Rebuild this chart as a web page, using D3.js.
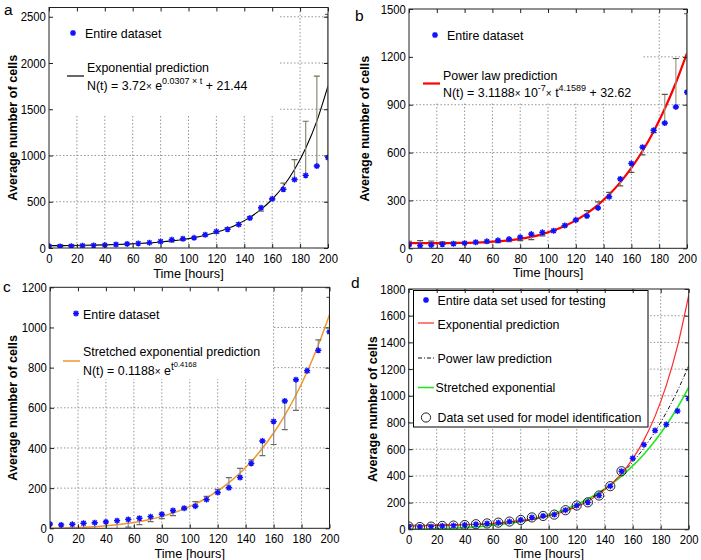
<!DOCTYPE html>
<html><head><meta charset="utf-8">
<script src="https://cdn.jsdelivr.net/npm/d3@7"></script>
<style>
body{margin:0;background:#fff}
svg text{font-family:"Liberation Sans",Arial,Helvetica,sans-serif;fill:#000}
</style>
</head><body>
<svg id="chart" width="701" height="560"></svg>
<script>
// ---------- data ----------
const hours = [0,8,16,24,32,40,48,56,64,72,80,88,96,104,112,120,128,136,144,152,160,168,176,184,192,200];
const cellCounts = [21,17,20,25,28,32,38,44,50,58,70,89,100,110,143,178,202,253,323,435,532,634,740,785,886,978];
const expPrediction = [25.2,26.2,27.5,29.2,31.4,34.1,37.7,42.2,48.0,55.4,64.8,76.9,92.3,112.1,137.3,169.5,210.8,263.4,330.8,416.9,527.0,667.8,847.7,1077.6,1371.7,1752.0];
const powerPrediction = [32.6,32.6,32.7,32.8,33.2,34.1,35.8,38.6,43.0,49.6,59.0,71.8,88.9,111.2,139.5,175.0,218.8,272.2,336.6,413.3,503.7,609.7,732.5,874.7,1037.8,1224.1];
const stretchedPrediction = [0.1,1.3,2.8,5.1,8.3,12.5,18.0,25.1,34.1,45.4,59.3,76.2,96.7,121.4,150.9,185.8,227.2,275.5,332.1,398.5,474.6,562.6,663.7,779.7,912.3,1063.9];
const identificationHours = [0,8,16,24,32,40,48,56,64,72,80,88,96,104,112,120,128,136,144,152];
const xTicks = [0,20,40,60,80,100,120,140,160,180,200];
const yTicksA = [0,500,1000,1500,2000,2500];
const yTicksB = [0,300,600,900,1200,1500];
const yTicksC = [0,200,400,600,800,1000,1200];
const yTicksD = [0,200,400,600,800,1000,1200,1400,1600,1800];
const panelLetters = ["a","b","c","d"];
const xTitle = "Time [hours]";
const yTitle = "Average number of cells";

// ---------- helpers ----------
const svg = d3.select("#chart");
const FONT_TICK = 12.6;
function starPath(r){
  const d = r*0.72;
  return `M${-r},0L${r},0M0,${-r}L0,${r}M${-d},${-d}L${d},${d}M${-d},${d}L${d},${-d}`;
}
const pts = hours.map((h,i)=>({h, v:cellCounts[i], e:expPrediction[i], p:powerPrediction[i], s:stretchedPrediction[i]}));

function drawPanel(cfg, idx){
  const g = svg.append("g");
  const x = d3.scaleLinear().domain([0,200]).range([cfg.left,cfg.right]);
  const y = d3.scaleLinear().domain([0,cfg.ymax]).range([cfg.bottom,cfg.top]);
  const clipId = "clip"+idx;
  svg.append("clipPath").attr("id",clipId).append("rect")
    .attr("x",cfg.left).attr("y",cfg.top).attr("width",cfg.right-cfg.left).attr("height",cfg.bottom-cfg.top);

  // grid
  const grid = g.append("g").attr("stroke","#8a8a8a").attr("stroke-width",0.9).attr("stroke-dasharray","1.5,2");
  grid.selectAll("line.v").data(xTicks.slice(1,-1)).join("line")
    .attr("x1",d=>x(d)).attr("x2",d=>x(d)).attr("y1",cfg.top).attr("y2",cfg.bottom);
  grid.selectAll("line.h").data(cfg.yTicks.filter(t=>t>0 && t<cfg.ymax)).join("line")
    .attr("x1",cfg.left).attr("x2",cfg.right).attr("y1",d=>y(d)).attr("y2",d=>y(d));

  // legend background
  const lb = cfg.legendBox;
  g.append("rect").attr("x",lb[0]).attr("y",lb[1]).attr("width",lb[2]-lb[0]).attr("height",lb[3]-lb[1])
    .attr("fill","#fff").attr("stroke",cfg.legendBorder?"#000":"none").attr("stroke-width",1);

  const plot = g.append("g").attr("clip-path",`url(#${clipId})`);

  // models
  cfg.models.forEach(m=>{
    const line = d3.line().x(d=>x(d.h)).y(d=>y(d[m.key])).curve(d3.curveMonotoneX);
    plot.append("path").datum(pts).attr("d",line).attr("fill","none")
      .attr("stroke",m.color).attr("stroke-width",m.width)
      .attr("stroke-dasharray",m.dash||null);
  });

  // error bars (prediction ± residual)
  if(cfg.barKey){
    const eb = plot.append("g").attr("stroke",cfg.barColor).attr("stroke-width",1.2);
    pts.forEach(d=>{
      const r = Math.abs(d.v-d[cfg.barKey]);
      const lo = d[cfg.barKey]-r, hi = d[cfg.barKey]+r;
      eb.append("line").attr("x1",x(d.h)).attr("x2",x(d.h)).attr("y1",y(lo)).attr("y2",y(hi));
      [lo,hi].forEach(v=>{
        eb.append("line").attr("x1",x(d.h)-3).attr("x2",x(d.h)+3).attr("y1",y(v)).attr("y2",y(v))
          .attr("stroke",cfg.capColor||cfg.barColor);
      });
    });
  }

  // identification circles
  if(cfg.circles){
    plot.append("g").selectAll("circle").data(identificationHours).join("circle")
      .attr("cx",h=>x(h)).attr("cy",h=>y(cellCounts[hours.indexOf(h)])).attr("r",4.6)
      .attr("fill","none").attr("stroke","#222").attr("stroke-width",1);
  }

  // data markers
  plot.append("g").selectAll("path").data(pts).join("path")
    .attr("transform",d=>`translate(${x(d.h)},${y(d.v)})`)
    .attr("d",starPath(3)).attr("stroke","#1010ff").attr("stroke-width",1.4).attr("fill","none");

  // box
  g.append("rect").attr("x",cfg.left).attr("y",cfg.top).attr("width",cfg.right-cfg.left).attr("height",cfg.bottom-cfg.top)
    .attr("fill","none").attr("stroke","#222").attr("stroke-width",1);

  // axes
  const ax = (axis, tr)=> g.append("g").attr("transform",tr).call(axis).call(s=>s.select(".domain").remove())
    .call(s=>s.selectAll(".tick line").attr("stroke","#222"));
  const bx = ax(d3.axisBottom(x).tickValues(xTicks).tickSize(-4).tickPadding(cfg.xPad).tickFormat(d3.format("d")), `translate(0,${cfg.bottom})`);
  ax(d3.axisTop(x).tickValues(xTicks).tickSize(-4).tickFormat(""), `translate(0,${cfg.top})`);
  const ly = ax(d3.axisLeft(y).tickValues(cfg.yTicks).tickSize(-4).tickPadding(3.5).tickFormat(d3.format("d")), `translate(${cfg.left},0)`);
  ax(d3.axisRight(y).tickValues(cfg.yTicks).tickSize(-4).tickFormat(""), `translate(${cfg.right},0)`);
  [bx,ly].forEach(a=>{
    a.attr("font-family",null).attr("font-size",null);
    a.selectAll(".tick text").attr("font-size",FONT_TICK).attr("fill","#000").attr("transform","scale(0.9,1)");
  });

  // titles
  g.append("text").attr("x",(cfg.left+cfg.right)/2).attr("y",cfg.xTitleY).attr("text-anchor","middle")
    .attr("font-size",12.8).text(xTitle);
  g.append("text").attr("transform",`translate(${cfg.yTitleX},${(cfg.top+cfg.bottom)/2}) rotate(-90)`)
    .attr("text-anchor","middle").attr("font-size",12.6).attr("font-weight","bold").text(yTitle);
  g.append("text").attr("x",cfg.letter[0]).attr("y",cfg.letter[1]).attr("font-size",15.5).text(panelLetters[idx]);

  // legend
  cfg.legend(g);
}

function legendStar(g,cx,cy){
  g.append("path").attr("transform",`translate(${cx},${cy})`).attr("d",starPath(3))
    .attr("stroke","#1010ff").attr("stroke-width",1.4).attr("fill","none");
}
function legendLine(g,x1,x2,yy,color,w,dash){
  g.append("line").attr("x1",x1).attr("x2",x2).attr("y1",yy).attr("y2",yy)
    .attr("stroke",color).attr("stroke-width",w).attr("stroke-dasharray",dash||null);
}
function ltext(g,x0,y0,parts){
  const t = g.append("text").attr("x",x0).attr("y",y0).attr("font-size",12.4);
  parts.forEach(p=>{
    const s = t.append("tspan").text(p.t);
    if(p.fs) s.attr("font-size",p.fs);
    if(p.dy) s.attr("dy",p.dy);
  });
  return t;
}

const panels = [
  {left:49,right:328,top:7.5,bottom:248,ymax:2600,yTicks:yTicksA,xPad:6,xTitleY:277.5,yTitleX:17,letter:[4,15],
   legendBox:[49.5,8,278,114],
   models:[{key:"e",color:"#000",width:1.1}],barKey:"e",barColor:"#8a8a72",capColor:"#6e6e5a",
   legend:g=>{
     legendStar(g,73,33); ltext(g,85,38,[{t:"Entire dataset"}]);
     legendLine(g,67,84,76,"#000",1.2);
     ltext(g,87,72,[{t:"Exponential prediction"}]);
     ltext(g,87,89.5,[{t:"N(t) = 3.72"},{t:"×",fs:10},{t:" e"},{t:"0.0307 × t",fs:9,dy:-6},{t:" + 21.44",dy:6}]);
   }},
  {left:409,right:687,top:9,bottom:248.3,ymax:1500,yTicks:yTicksB,xPad:6,xTitleY:277,yTitleX:369,letter:[355,20.5],
   legendBox:[409.5,9.5,643,102],
   models:[{key:"p",color:"#ff0000",width:2.2}],barKey:"p",barColor:"#9a9a88",capColor:"#555548",
   legend:g=>{
     legendStar(g,435,35); ltext(g,447,40,[{t:"Entire dataset"}]);
     legendLine(g,423,440,83.5,"#ff0000",2.2);
     ltext(g,443,80,[{t:"Power law prediction"}]);
     ltext(g,443,96.5,[{t:"N(t) = 3.1188"},{t:"×",fs:10},{t:" 10"},{t:"-7",fs:9,dy:-6},{t:"×",fs:10,dy:6},{t:" t"},{t:"4.1589",fs:9,dy:-6},{t:" + 32.62",dy:6}]);
   }},
  {left:50,right:329.5,top:287.3,bottom:528.3,ymax:1200,yTicks:yTicksC,xPad:6,xTitleY:557.5,yTitleX:17,letter:[3,291.5],
   legendBox:[50.5,287.8,273,379],
   models:[{key:"s",color:"#f0962a",width:1.5}],barKey:"s",barColor:"#8f8f8f",capColor:"#6a6a6a",
   legend:g=>{
     legendStar(g,76,313.5); ltext(g,83,318.5,[{t:"Entire dataset"}]);
     legendLine(g,63,80,361,"#f0962a",1.5);
     ltext(g,83,355.5,[{t:"Stretched exponential prediction"}]);
     ltext(g,83,375,[{t:"N(t) = 0.1188"},{t:"×",fs:10},{t:" e"},{t:"t",fs:10,dy:-5.5},{t:"0.4168",fs:7.5,dy:-3}]);
   }},
  {left:408.7,right:688.7,top:289,bottom:529.3,ymax:1800,yTicks:yTicksD,xPad:5.5,xTitleY:557.5,yTitleX:377,letter:[351,288],
   legendBox:[413.5,290.5,648,427],legendBorder:true,
   models:[{key:"s",color:"#22e622",width:1.6},{key:"p",color:"#111",width:1,dash:"4,2,1,2"},{key:"e",color:"#ff2a2a",width:1.2}],
   circles:true,
   legend:g=>{
     legendStar(g,426,300); ltext(g,437.5,305,[{t:"Entire data set used for testing"}]);
     legendLine(g,418,434,323,"#ff2a2a",1.2); ltext(g,437.5,328.5,[{t:"Exponential prediction"}]);
     legendLine(g,418,434,358,"#111",1,"4,2,1,2"); ltext(g,437.5,362.5,[{t:"Power law prediction"}]);
     legendLine(g,418,434,387.5,"#22e622",1.6); ltext(g,435.5,392,[{t:"Stretched exponential"}]);
     g.append("circle").attr("cx",426).attr("cy",417.5).attr("r",4.6).attr("fill","none").attr("stroke","#222");
     ltext(g,437.5,422,[{t:"Data set used for model identification"}]);
   }}
];
panels.forEach(drawPanel);
</script>
</body></html>
